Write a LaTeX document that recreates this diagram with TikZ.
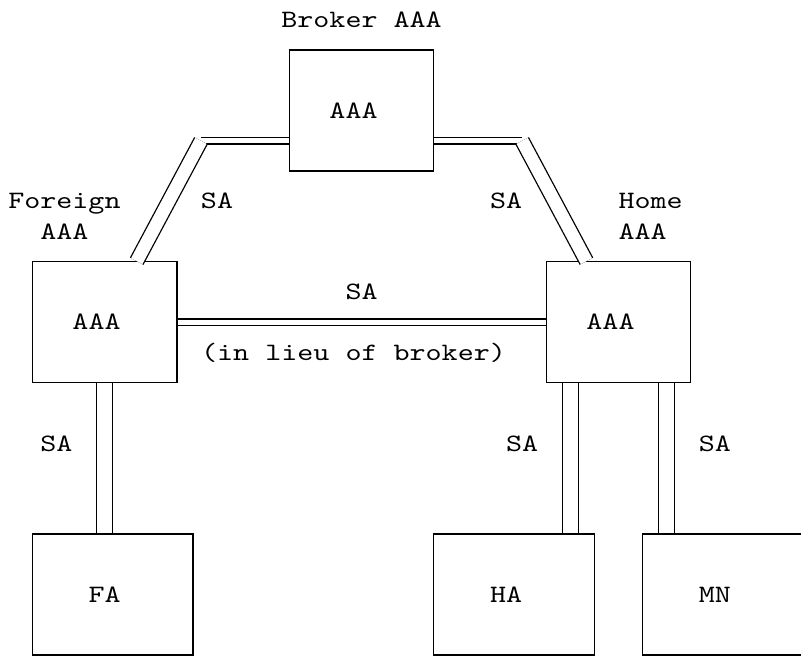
\documentclass[tikz,border=0pt]{standalone}
\usepackage{fontspec}
\newfontfamily\asciifont[FakeStretch=1.222]{lmmono10-regular.otf}
\def\colw{16.06pt}
\begin{document}
\begin{tikzpicture}[x=16.06pt, y=-30.25pt, line width=1.3pt,
    font=\asciifont\fontsize{25pt}{30.25pt}\selectfont,
    every node/.style={inner sep=0pt},
    txt/.style={text height=15.3pt, text depth=0pt},
    box/.style={draw, txt, minimum width=#1*\colw, minimum height=4*30.25pt,
        execute at end node={\hspace*{\colw}}},
    box/.default=9,
    eq/.style={double, double distance=5.2pt},
    slash/.style={double, double distance=12.8pt},
    pipe/.style={double, double distance=14.7pt}]
\useasboundingbox (-1.011,-0.6545) rectangle (48.86,21.164);
\node[box] (broker) at (21.5,3) {AAA};
\node[box] (faaa) at (5.5,10) {AAA};
\node[box] (haaa) at (37.5,10) {AAA};
\node[box=10] (fa) at (6,19) {FA};
\node[box=10] (ha) at (31,19) {HA};
\node[box=10] (mn) at (44,19) {MN};
\node[txt] (brokerlbl) at (21.5,0) {Broker AAA};
\node[align=center] (foreignlbl) at (3,6.5) {Foreign\\AAA};
\node[align=left] (homelbl) at (39.5,6.5) {Home\\AAA};
\coordinate (fbend) at (11.5,4);
\coordinate (hbend) at (31.5,4);
\draw[eq] (broker.west |- fbend) -- (fbend);
\draw[slash] (fbend) -- ([xshift=2*\colw]faaa.north)
    node[txt, pos=.5, xshift=3*\colw] (sa1) {SA};
\draw[eq] (broker.east |- hbend) -- (hbend);
\draw[slash] (hbend) -- ([xshift=-2*\colw]haaa.north)
    node[txt, pos=.5, xshift=-3*\colw] (sa2) {SA};
\draw[eq] (faaa) -- (haaa)
    node[txt, midway, yshift=30.25pt] (sa3) {SA}
    node[txt, midway, xshift=-.5*\colw, yshift=-30.25pt] (lieu) {(in lieu of broker)};
\draw[pipe] (faaa.south) -- (faaa.south |- fa.north)
    node[txt, pos=.4, xshift=-3*\colw] (sa4) {SA};
\draw[pipe] ([xshift=-3*\colw]haaa.south) -- ([xshift=3.5*\colw]ha.north)
    node[txt, pos=.4, xshift=-3*\colw] (sa5) {SA};
\draw[pipe] ([xshift=3*\colw]haaa.south) -- ([xshift=-3.5*\colw]mn.north)
    node[txt, pos=.4, xshift=3*\colw] (sa6) {SA};
\end{tikzpicture}
\end{document}
